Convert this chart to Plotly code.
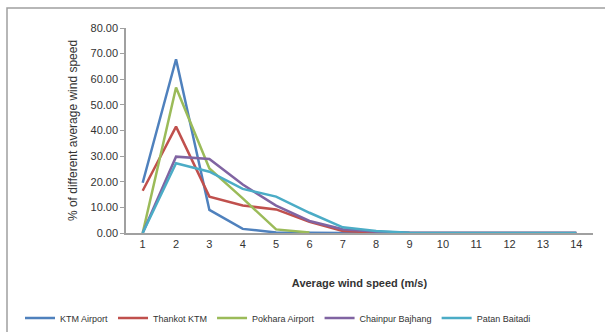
import plotly.graph_objects as go

speeds = list(range(1, 15))
tick_labels = [str(s) for s in speeds]

ktm_airport = [19.6, 67.8, 9.0, 1.6, 0.2, 0.0, 0.0, 0.0, 0.0, 0.0, 0.0, 0.0, 0.0, 0.0]
thankot_ktm = [16.5, 41.5, 14.2, 10.7, 9.2, 4.4, 0.8, 0.2, 0.0, 0.0, 0.0, 0.0, 0.0, 0.0]
pokhara_airport = [0.0, 56.8, 25.2, 13.5, 1.4, 0.2]
chainpur_bajhang = [0.0, 29.8, 28.9, 18.9, 10.7, 4.7, 1.5, 0.5, 0.1, 0.0, 0.0, 0.0, 0.0, 0.0]
patan_baitadi = [0.0, 27.2, 23.9, 17.2, 14.2, 7.9, 2.2, 0.8, 0.1, 0.1, 0.2, 0.2, 0.0, 0.0]

series = [
    ("KTM Airport", ktm_airport, "#4F81BD"),
    ("Thankot KTM", thankot_ktm, "#C0504D"),
    ("Pokhara Airport", pokhara_airport, "#9BBB59"),
    ("Chainpur Bajhang", chainpur_bajhang, "#8064A2"),
    ("Patan Baitadi", patan_baitadi, "#4BACC6"),
]

fig = go.Figure()
for name, vals, color in series:
    fig.add_trace(go.Scatter(
        x=speeds[:len(vals)], y=vals, mode="lines", name=name,
        line=dict(color=color, width=2.5),
    ))

font = "Liberation Sans Narrow, Liberation Sans, Arial"
L, R, T, B = 126, 12, 28, 99
W, H = 605, 332
pw = W - L - R
ph = H - T - B

fig.update_layout(
    width=W, height=H,
    margin=dict(l=L, r=R, t=T, b=B, autoexpand=False),
    paper_bgcolor="white", plot_bgcolor="white",
    font=dict(family=font, size=11, color="#333333"),
    xaxis=dict(
        range=[0.5, 14.5], tickmode="array", tickvals=speeds, ticktext=tick_labels,
        showgrid=False, zeroline=False, showline=True, linecolor="#A0A0A0", linewidth=1.5,
        ticks="", tickfont=dict(size=11, color="#333333"),
        title=dict(text="<b>Average wind speed (m/s)</b>", font=dict(size=11, color="#333333"), standoff=30),
    ),
    yaxis=dict(
        range=[0, 80], tickmode="array", tickvals=[0, 10, 20, 30, 40, 50, 60, 70, 80],
        tickformat=".2f", showgrid=False, zeroline=False, showline=True,
        linecolor="#A0A0A0", linewidth=1.5, ticks="outside", ticklen=4, tickcolor="#A0A0A0",
        tickfont=dict(size=11, color="#333333"),
        title=dict(text="% of different average wind speed", font=dict(size=12, color="#333333"), standoff=10),
    ),
    legend=dict(
        orientation="h", x=(20 - L) / pw, y=(T + ph - 318) / ph, xanchor="left", yanchor="middle",
        font=dict(size=9, color="#333333"), itemwidth=30, bgcolor="rgba(0,0,0,0)",
        tracegroupgap=0,
    ),
    shapes=[dict(
        type="rect", xref="paper", yref="paper",
        x0=(7 - L) / pw, x1=(W + 10 - L) / pw,
        y0=(T + ph - (H + 10)) / ph, y1=(T + ph - 8) / ph,
        line=dict(color="#A0A0A0", width=1.5), fillcolor="rgba(0,0,0,0)", layer="below",
    )],
)

fig.write_html("out.html")
